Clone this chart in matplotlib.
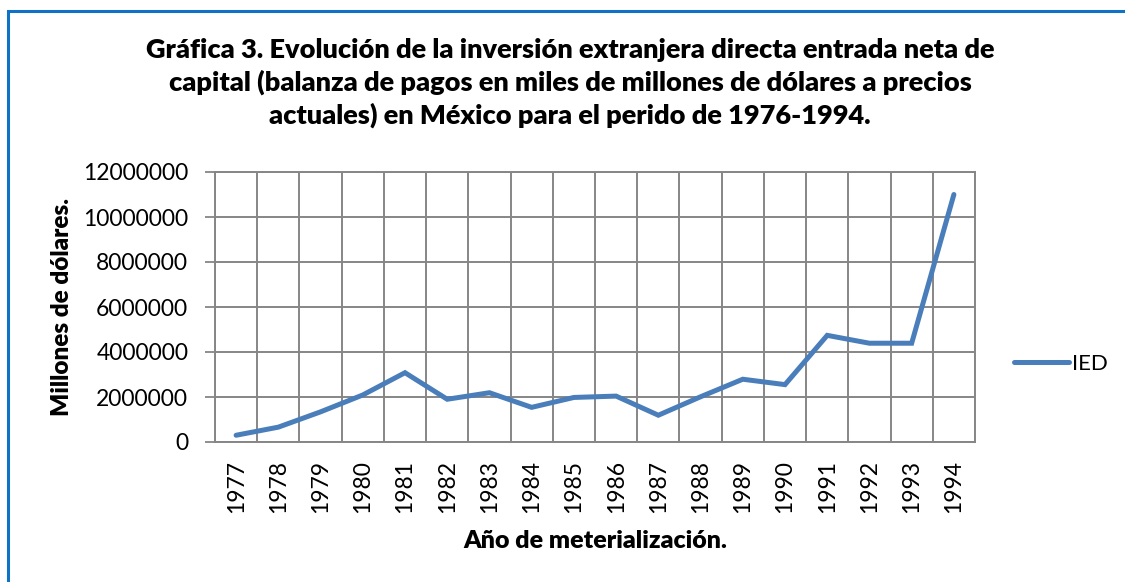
import matplotlib.pyplot as plt
from matplotlib.patches import Rectangle

plt.rcParams['font.family'] = ['Lato', 'DejaVu Sans']

# Datos de la grafica (IED, Mexico)
years = ['1977', '1978', '1979', '1980', '1981', '1982', '1983', '1984', '1985',
         '1986', '1987', '1988', '1989', '1990', '1991', '1992', '1993', '1994']
ied = [300000, 660000, 1340000, 2090000, 3080000, 1900000, 2190000, 1540000, 1980000,
       2040000, 1190000, 2010000, 2790000, 2550000, 4740000, 4390000, 4390000, 11000000]
title_lines = ['Gráfica 3. Evolución de la inversión extranjera directa entrada neta de',
               'capital (balanza de pagos en miles de millones de dólares a precios',
               'actuales) en México para el perido de 1976-1994.']

W, H = 1125, 582
fig = plt.figure(figsize=(W / 100, H / 100), dpi=100)

# marco azul del grafico
fig.patches.append(Rectangle((8 / W, -0.1), 1.2, 1 - 11 / H + 0.1, transform=fig.transFigure,
                             fill=False, edgecolor='#1072C4', linewidth=2.2))

ax = fig.add_axes([215 / W, 1 - 442 / H, 760 / W, 270 / H])
x = list(range(len(years)))
line, = ax.plot(x, ied, color='#4A7EBB', linewidth=3.6, solid_capstyle='round',
                solid_joinstyle='miter', label='IED', zorder=3)

ax.set_xlim(-0.5, len(years) - 0.5)
ax.set_ylim(0, 12000000)
ax.set_yticks(range(0, 12000001, 2000000))
ax.set_yticklabels([str(v) for v in range(0, 12000001, 2000000)], fontsize=16.5)
ax.set_xticks(x)
ax.set_xticklabels(years, rotation=90, fontsize=16.5)
ax.set_xticks([i - 0.5 for i in range(len(years) + 1)], minor=True)
ax.tick_params(axis='x', which='major', length=0, pad=13)
ax.tick_params(axis='x', which='minor', length=0)
ax.tick_params(axis='y', length=7.2, color='#868686', width=1.3, pad=12)
ax.grid(True, which='minor', axis='x', color='#868686', linewidth=1.4)
ax.grid(True, which='major', axis='y', color='#868686', linewidth=1.4)
for s in ax.spines.values():
    s.set_color('#868686')
    s.set_linewidth(1.4)

# titulos de los ejes
fig.text(595 / W, 1 - 541 / H, 'Año de meterialización.', ha='center', va='center',
         fontsize=18, fontweight='heavy')
fig.text(62 / W, 1 - 307 / H, 'Millones de dólares.', ha='center', va='center',
         rotation=90, fontsize=17.5, fontweight='heavy')

for i, t in enumerate(title_lines):
    fig.text(570 / W, 1 - (58 + 33 * i) / H, t, ha='center', va='baseline',
             fontsize=19.5, fontweight='heavy')

fig.legend(handles=[line], loc='center left', bbox_to_anchor=(1005 / W, 1 - 364 / H),
           frameon=False, fontsize=16, handlelength=2.5, handletextpad=0.1, borderaxespad=0)

fig.savefig('out.png', dpi=100)
